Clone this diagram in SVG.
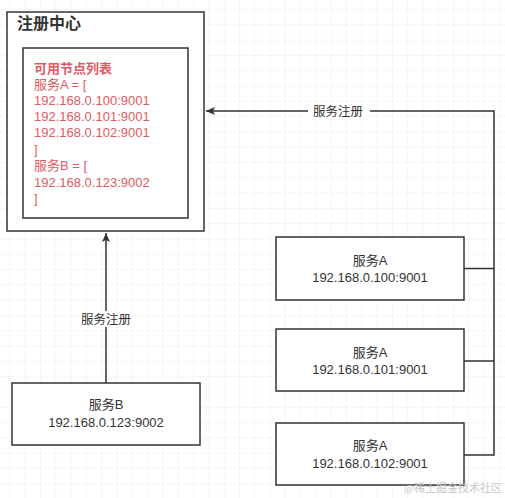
<svg xmlns="http://www.w3.org/2000/svg" width="505" height="498" viewBox="0 0 505 498">
<style>
.box{fill:#ffffff;stroke:#333333;stroke-width:1.5}
.t{font-family:"Liberation Sans","Noto Sans CJK SC",sans-serif;font-size:13px;fill:#333333;text-anchor:middle}
.r{font-family:"Liberation Sans","Noto Sans CJK SC",sans-serif;font-size:13px;fill:#e05a63}
.line{fill:none;stroke:#333333;stroke-width:1.5}
.lbl{font-family:"Liberation Sans","Noto Sans CJK SC",sans-serif;font-size:12.5px;fill:#333333;text-anchor:middle}
</style>
<defs>
<pattern id="grid" x="9.4" y="9" width="15.3" height="15.3" patternUnits="userSpaceOnUse">
<path d="M0 0H15.3M0 0V15.3" fill="none" stroke="#ebebeb" stroke-width="1"/>
</pattern>
<marker id="arr" markerWidth="10" markerHeight="10" refX="9" refY="5" orient="auto" markerUnits="userSpaceOnUse">
<path d="M0 1 L9 5 L0 9 L2 5 Z" fill="#333333"/>
</marker>
</defs>
<rect width="505" height="498" fill="#ffffff"/>
<rect width="505" height="498" fill="url(#grid)"/>

<g id="connectors">
<path class="line" d="M464 268.5H494V455H464M464 361H494M494 268.5V111H206" marker-end="url(#arr)"/>
<rect x="308" y="103" width="62" height="16" fill="#ffffff"/>
<text class="lbl" x="338" y="115.5">服务注册</text>
<path class="line" d="M106 383V233" marker-end="url(#arr)"/>
<rect x="78" y="311" width="56" height="16" fill="#ffffff"/>
<text class="lbl" x="106" y="323.5">服务注册</text>
</g>

<g id="registry">
<rect class="box" x="7" y="12" width="197" height="219"/>
<text x="17" y="28.5" style="font-family:'Liberation Sans','Noto Sans CJK SC',sans-serif;font-size:16px;font-weight:bold;fill:#333333">注册中心</text>
</g>

<g id="node-list">
<rect class="box" x="23" y="48" width="165" height="170"/>
<text class="r" x="34" y="72.5" font-weight="bold">可用节点列表</text>
<text class="r" x="34" y="88.5">服务A = [</text>
<text class="r" x="34" y="104.5">192.168.0.100:9001</text>
<text class="r" x="34" y="121">192.168.0.101:9001</text>
<text class="r" x="34" y="137">192.168.0.102:9001</text>
<text class="r" x="34" y="153.5">]</text>
<text class="r" x="34" y="170">服务B = [</text>
<text class="r" x="34" y="186.5">192.168.0.123:9002</text>
<text class="r" x="34" y="202.5">]</text>
</g>

<g id="svcA1">
<rect class="box" x="276" y="237" width="188" height="63"/>
<text class="t" x="370" y="264.5">服务A</text>
<text class="t" x="370" y="281.5">192.168.0.100:9001</text>
</g>
<g id="svcA2">
<rect class="box" x="276" y="329" width="188" height="62"/>
<text class="t" x="370" y="356.5">服务A</text>
<text class="t" x="370" y="374">192.168.0.101:9001</text>
</g>
<g id="svcA3">
<rect class="box" x="276" y="423" width="188" height="62"/>
<text class="t" x="370" y="450">服务A</text>
<text class="t" x="370" y="467.5">192.168.0.102:9001</text>
</g>
<g id="svcB">
<rect class="box" x="12" y="383" width="188" height="62"/>
<text class="t" x="106" y="409">服务B</text>
<text class="t" x="106" y="426.5">192.168.0.123:9002</text>
</g>

<text x="502" y="492" text-anchor="end" style="font-family:'Liberation Serif','Noto Sans CJK SC',serif;font-size:11px;fill:#c8c8c8">@稀土掘金技术社区</text>
</svg>
